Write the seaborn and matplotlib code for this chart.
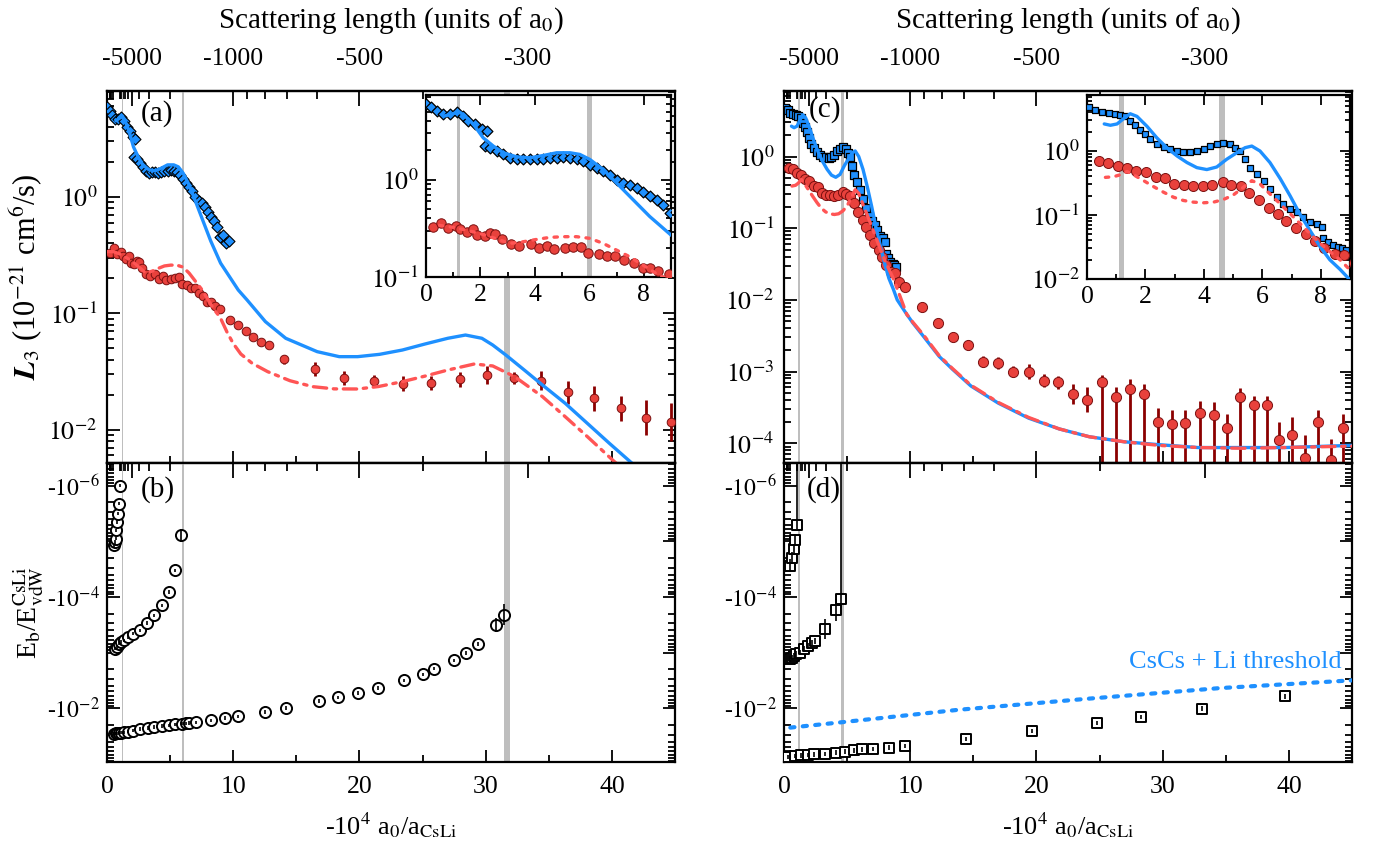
import numpy as np
import matplotlib
matplotlib.use("Agg")
import matplotlib.pyplot as plt
import seaborn as sns
from matplotlib.ticker import MultipleLocator, LogLocator, FuncFormatter, NullFormatter

# ---------------- data (log10 of values) ----------------
# Panel (a): Cs+Cs+Li, L3 of Cs (blue) and Li (red)
a_blue_x = [0.0, 0.2, 0.39, 0.64, 0.88, 1.13, 1.37, 1.55, 1.8, 2.04, 2.23,
            2.17, 2.35, 2.59, 2.84, 3.08, 3.33, 3.57, 3.82, 4.06, 4.31, 4.55, 4.8, 5.04, 5.29,
            5.53, 5.78, 6.02, 6.27, 6.51, 6.76, 7.0, 7.25, 7.49, 7.74, 7.98, 8.22, 8.47, 8.71,
            8.96, 9.2, 9.45, 9.7]
a_blue_log = [0.776, 0.741, 0.707, 0.672, 0.672, 0.69, 0.655, 0.603, 0.569, 0.517, 0.5,
              0.345, 0.328, 0.293, 0.259, 0.224, 0.207, 0.214, 0.214, 0.207, 0.214, 0.224, 0.224,
              0.234, 0.224, 0.214, 0.19, 0.155, 0.121, 0.086, 0.052, 0.0, -0.034, -0.052, -0.086,
              -0.131, -0.172, -0.207, -0.259, -0.345, -0.33, -0.40, -0.38]
a_red_x = [0.24, 0.54, 0.82, 1.1, 1.25, 1.49, 1.71, 1.88, 2.17, 2.35, 2.53, 2.8, 3.12, 3.43,
           3.84, 4.15, 4.43, 4.71, 5.1, 5.41, 5.68, 5.96, 6.36, 6.66, 6.96, 7.27, 7.64, 7.96,
           8.23, 8.53, 8.94, 9.77, 10.34, 10.98, 11.59, 12.2, 12.84, 14.0, 16.48, 18.8, 21.15,
           23.43, 25.68, 27.96, 30.1, 32.24, 34.4, 36.5, 38.6, 40.7, 42.72, 44.72]
a_red_log = [-0.483, -0.441, -0.493, -0.476, -0.51, -0.534, -0.51, -0.569, -0.576, -0.552,
             -0.559, -0.614, -0.662, -0.683, -0.662, -0.707, -0.683, -0.714, -0.707, -0.697,
             -0.69, -0.752, -0.759, -0.783, -0.783, -0.828, -0.855, -0.903, -0.907, -0.938,
             -0.966, -1.058, -1.1, -1.152, -1.2, -1.243, -1.27, -1.396, -1.479, -1.554, -1.582,
             -1.605, -1.596, -1.567, -1.53, -1.554, -1.579, -1.68, -1.73, -1.817, -1.898, -1.935]
a_red_err = [0.02] * 31 + [0.025] * 6 + [0.037, 0.057, 0.06, 0.055, 0.065, 0.06, 0.065, 0.078,
                                         0.05, 0.08, 0.1, 0.106, 0.107, 0.15, 0.165]
a_theo_blue_x = [0.7, 1.0, 1.25, 1.43, 1.74, 2.1, 2.47, 2.84, 3.33, 3.82, 4.31, 4.8, 5.29, 5.65,
                 6.02, 6.51, 7.0, 7.61, 8.22, 9.0, 10.4, 11.1, 12.55, 14.16, 16.65, 18.4, 19.86,
                 21.6, 23.4, 25.2, 27.0, 28.4, 29.7, 30.56, 31.6, 33.06, 34.5, 36.3, 38.05, 39.8,
                 41.6]
a_theo_blue_log = [0.655, 0.679, 0.69, 0.655, 0.569, 0.43, 0.345, 0.276, 0.234, 0.224, 0.248,
                   0.276, 0.276, 0.259, 0.207, 0.103, -0.034, -0.207, -0.379, -0.569, -0.8,
                   -0.886, -1.072, -1.215, -1.33, -1.373, -1.373, -1.353, -1.316, -1.264, -1.215,
                   -1.187, -1.215, -1.273, -1.359, -1.488, -1.617, -1.774, -1.946, -2.118, -2.29]
a_theo_red_x = [0.0, 0.5, 1.0, 1.5, 2.0, 2.5, 3.08, 3.57, 4.06, 4.55, 5.04, 5.53, 6.02, 6.51,
                7.0, 7.49, 7.98, 8.47, 8.96, 9.5, 10.0, 10.6, 11.5, 12.73, 14.5, 16.3, 18.0,
                19.86, 21.5, 23.4, 25.2, 27.0, 29.1, 30.56, 32.3, 34.5, 36.3, 38.05, 40.2, 41.0]
a_theo_red_log = [-0.47, -0.47, -0.49, -0.52, -0.555, -0.6, -0.655, -0.638, -0.614, -0.593,
                  -0.586, -0.586, -0.603, -0.655, -0.724, -0.793, -0.879, -0.966, -1.034, -1.16,
                  -1.26, -1.35, -1.43, -1.502, -1.58, -1.631, -1.65, -1.651, -1.63, -1.588,
                  -1.54, -1.488, -1.436, -1.453, -1.545, -1.717, -1.889, -2.06, -2.276, -2.35]

# Panel (b): trimer binding energies, log10 |E_b / E_vdW|
b_x = [0.58, 0.63, 0.68, 0.75, 0.82, 0.89, 0.96, 1.03,
       0.61, 0.78, 0.96, 1.14, 1.32, 1.68, 2.03, 2.6, 3.2, 3.74, 4.35, 4.89, 5.42, 5.85,
       0.53, 0.68, 0.82, 0.96, 1.14, 1.32, 1.68, 2.03, 2.6, 3.21, 3.74, 4.35, 4.89, 5.42, 5.96,
       6.24, 6.49, 7.03, 8.27, 9.34, 10.41, 12.55, 14.16, 16.76, 18.33, 19.86, 21.47, 23.5,
       25.04, 25.93, 27.46, 28.42, 29.42, 30.85, 31.42]
b_log = [-4.93, -4.99, -5.05, -5.2, -5.35, -5.5, -5.68, -6.0,
         -3.07, -3.1, -3.16, -3.19, -3.22, -3.28, -3.34, -3.4, -3.53, -3.67, -3.85, -4.09, -4.48,
         -5.11,
         -1.537, -1.55, -1.55, -1.556, -1.562, -1.568, -1.58, -1.598, -1.622, -1.64, -1.658,
         -1.676, -1.688, -1.706, -1.718, -1.724, -1.73, -1.742, -1.778, -1.82, -1.85, -1.928,
         -2.0, -2.126, -2.192, -2.27, -2.36, -2.498, -2.607, -2.709, -2.859, -2.991, -3.153,
         -3.496, -3.682]
b_err = [0.03] * 8 + [0.03] * 13 + [0.12] + [0.03] * 33 + [0.13, 0.19]

# Panel (c): Cs+Cs+Li second resonance set
c_blue_x = [0.06, 0.28, 0.51, 0.74, 0.97, 1.14, 1.31, 1.48, 1.65, 1.82, 1.99, 2.16, 2.39, 2.62,
            2.85, 3.08, 3.3, 3.53, 3.76, 3.99, 4.21, 4.44, 4.67, 4.9, 5.07, 5.24, 5.41, 5.58,
            5.81, 6.04, 6.26, 6.49, 6.72, 6.95, 7.18, 7.4, 7.63, 7.86, 8.03, 8.09, 8.26, 8.43,
            8.6, 8.73, 8.86]
c_blue_log = [0.68, 0.644, 0.608, 0.588, 0.582, 0.567, 0.541, 0.464, 0.412, 0.335, 0.258, 0.18,
              0.113, 0.062, 0.026, 0.0, -0.01, -0.015, 0.0, 0.026, 0.077, 0.103, 0.129, 0.103,
              0.052, 0.0, -0.129, -0.258, -0.361, -0.464, -0.593, -0.722, -0.825, -0.902, -0.954,
              -1.031, -1.108, -1.134, -1.186, -1.366, -1.418, -1.47, -1.495, -1.512, -1.544]
c_red_x = [0.4, 0.71, 1.05, 1.37, 1.69, 2.02, 2.36, 2.68, 2.98, 3.33, 3.64, 3.96, 4.29, 4.64,
           4.94, 5.26, 5.56, 5.9, 6.22, 6.53, 6.8, 7.14, 7.49, 7.8, 8.12, 8.47, 8.78, 9.13, 9.6,
           10.93, 12.17, 13.36, 14.55, 15.8, 16.98, 18.17, 19.38, 20.6, 21.72, 22.9, 24.03,
           25.17, 26.3, 27.4, 28.5, 29.66, 30.76, 31.8, 32.93, 34.03, 35.07, 36.1, 37.2, 38.24,
           39.2, 40.24, 41.28, 42.3, 43.34, 44.3]
c_red_log = [-0.155, -0.18, -0.232, -0.258, -0.309, -0.335, -0.412, -0.423, -0.515, -0.531,
             -0.541, -0.552, -0.531, -0.49, -0.526, -0.552, -0.651, -0.768, -0.884, -0.986,
             -1.093, -1.21, -1.303, -1.405, -1.512, -1.605, -1.628, -1.745, -1.814, -2.1, -2.325,
             -2.52, -2.628, -2.86, -2.883, -3.0, -3.0, -3.13, -3.15, -3.31, -3.39, -3.15, -3.35,
             -3.25, -3.32, -3.71, -3.73, -3.72, -3.58, -3.6, -3.79, -3.35, -3.47, -3.47, -3.95,
             -3.88, -4.21, -3.7, -4.24, -3.79]
c_red_err_hi = [0.02] * 29 + [0.03, 0.04, 0.04, 0.07, 0.08, 0.08, 0.08, 0.1, 0.09, 0.09, 0.14,
                              0.17, 0.1, 0.14, 0.15, 0.14, 0.2, 0.2, 0.19, 0.17, 0.17, 0.2, 0.12,
                              0.13, 0.13, 0.25, 0.25, 0.32, 0.17, 0.3, 0.2]
c_red_err_lo = c_red_err_hi[:41] + [9.0] * 19
c_theo_blue_x = [0.59, 0.8, 1.03, 1.25, 1.48, 1.71, 2.05, 2.39, 2.73, 3.08, 3.42, 3.76, 4.1,
                 4.44, 4.78, 5.13, 5.41, 5.64, 5.92, 6.26, 6.61, 6.95, 7.29, 7.63, 7.97, 8.31,
                 8.66, 8.97, 9.72, 10.2, 11.1, 12.3, 13.36, 14.8, 16.97, 19.38, 21.8, 24.2, 26.97,
                 29.7, 32.8, 36.3, 39.7, 45.0]
c_theo_blue_log = [0.423, 0.402, 0.423, 0.505, 0.582, 0.541, 0.387, 0.206, 0.052, -0.077, -0.18,
                   -0.26, -0.29, -0.25, -0.129, -0.026, 0.052, 0.077, 0.0, -0.18, -0.43, -0.7,
                   -0.99, -1.24, -1.49, -1.7, -1.85, -2.0, -2.2, -2.32, -2.52, -2.79, -2.97, -3.2,
                   -3.44, -3.65, -3.8, -3.91, -3.98, -4.02, -4.06, -4.06, -4.06, -4.03]
c_theo_red_x = [0.63, 0.91, 1.14, 1.37, 1.59, 1.94, 2.28, 2.62, 2.96, 3.3, 3.64, 3.99, 4.33,
                4.67, 5.01, 5.35, 5.64, 5.92, 6.26, 6.61, 6.95, 7.29, 7.63, 7.97, 8.31, 8.66,
                8.94, 9.72, 10.2, 11.1, 12.3, 13.36, 14.8, 16.97, 19.38, 21.8, 24.2, 26.97, 29.7,
                32.8, 36.3, 39.7, 45.0]
c_theo_red_log = [-0.412, -0.402, -0.371, -0.32, -0.371, -0.464, -0.557, -0.644, -0.722, -0.773,
                  -0.799, -0.809, -0.799, -0.758, -0.686, -0.567, -0.464, -0.515, -0.67, -0.825,
                  -0.979, -1.134, -1.289, -1.443, -1.572, -1.701, -1.83, -2.2, -2.31, -2.5,
                  -2.78, -2.96, -3.19, -3.43, -3.64, -3.8, -3.91, -3.98, -4.03, -4.06, -4.07,
                  -4.06, -4.04]

# Panel (d): trimer energies, log10 |E_b / E_vdW|
d_x = [0.45, 0.62, 0.76, 0.9, 1.03,
       0.45, 0.62, 0.79, 0.97, 1.24, 1.55, 1.9, 2.24, 2.48, 3.28, 4.14, 4.48,
       0.34, 0.86, 1.38, 1.9, 2.41, 3.28, 4.14, 4.83, 5.52, 6.2, 7.07, 8.28, 9.59, 14.4, 19.66,
       24.76, 28.28, 33.1, 39.66]
d_log = [-4.56, -4.7, -4.86, -5.03, -5.3,
         -2.88, -2.91, -2.94, -2.97, -3.0, -3.06, -3.12, -3.18, -3.21, -3.42, -3.76, -3.97,
         -1.12, -1.14, -1.15, -1.16, -1.17, -1.18, -1.2, -1.22, -1.24, -1.26, -1.27, -1.29,
         -1.32, -1.45, -1.59, -1.73, -1.84, -1.99, -2.21]
d_err_small = [0.12, 0.1, 0.1, 0.1, 9.0] + [0.05] * 9 + [0.18, 0.2, 9.0] + [0.04] * 19
d_err_large = [0.12, 0.1, 0.1, 0.1, 0.08] + [0.05] * 9 + [0.18, 0.2, 0.1] + [0.04] * 19
d_thr_x = [0.5, 4.5, 13.8, 24.1, 34.5, 45.0]
d_thr_log = [-1.65, -1.745, -1.97, -2.17, -2.36, -2.5]

# resonance positions (grey bands) and top-axis scattering lengths
a_bands = [(1.15, 1.25), (5.92, 6.08), (31.45, 31.95)]
c_bands = [(1.1, 1.25), (4.52, 4.72)]
scat_major = [-5000, -1000, -500, -300]
scat_minor = [-50000, -40000, -30000, -20000, -10000, -9000, -8000, -7000, -6000, -4000,
              -3000, -2000, -900, -800, -700, -600, -400]

# ---------------- style ----------------
sns.set_theme(style="ticks")
plt.rcParams["font.family"] = ["Liberation Serif", "DejaVu Serif"]
plt.rcParams["mathtext.fontset"] = "stix"
plt.rcParams["axes.edgecolor"] = "black"
plt.rcParams["xtick.color"] = "black"
plt.rcParams["ytick.color"] = "black"
plt.rcParams["text.color"] = "black"
plt.rcParams["axes.labelcolor"] = "black"

BLUE = "#1E90FF"
RED = "#E8413C"
RED_EDGE = "#7A1010"
RED_ERR = "#8B0000"
RED_LINE = "#FF5555"
GREY = "#BEBEBE"
TICK_FS = 18.5

W, H = 1377, 856


def box(l, t, r, b):
    return [l / W, 1 - b / H, (r - l) / W, (b - t) / H]


fig = plt.figure(figsize=(W / 100, H / 100), dpi=100)
ax_a = fig.add_axes(box(107, 91, 675, 463))
ax_b = fig.add_axes(box(107, 463, 675, 762))
ax_c = fig.add_axes(box(784, 91, 1352, 463))
ax_d = fig.add_axes(box(784, 463, 1352, 762))
ax_ai = fig.add_axes(box(426, 95, 671, 277))
ax_ci = fig.add_axes(box(1087, 95, 1350, 279))


def pow_fmt(v, p):
    return r"$10^{%d}$" % int(round(np.log10(v)))


def neg_fmt(v, p):
    e = int(round(np.log10(v)))
    return (r"-$10^{%d}$" % e) if e % 2 == 0 else ""


def style_axis(ax, labelsize=TICK_FS, major=9, minor=5):
    ax.tick_params(which="both", direction="in", right=True, top=False, width=1.3,
                   labelsize=labelsize, color="black")
    ax.tick_params(which="major", length=major)
    ax.tick_params(which="minor", length=minor)
    for s in ax.spines.values():
        s.set_linewidth(1.6)
        s.set_color("black")


def log_y(ax, fmt):
    ax.set_yscale("log")
    ax.yaxis.set_major_locator(LogLocator(base=10, numticks=30))
    ax.yaxis.set_minor_locator(LogLocator(base=10, subs=np.arange(2, 10), numticks=30))
    ax.yaxis.set_major_formatter(FuncFormatter(fmt))
    ax.yaxis.set_minor_formatter(NullFormatter())


def curve(ax, x, logv, color, ls, lw, z=4):
    sns.lineplot(x=np.asarray(x, float), y=10 ** np.asarray(logv, float), ax=ax, color=color,
                 linestyle=ls, linewidth=lw, sort=False, estimator=None, zorder=z,
                 legend=False, dash_capstyle="round")


def points(ax, x, logv, marker, face, edge, size, lw, err_lo=None, err_hi=None,
           ecolor="black", elw=1.3, z=3, err_on_top=False):
    x = np.asarray(x, float)
    y = 10 ** np.asarray(logv, float)
    sns.scatterplot(x=x, y=y, ax=ax, marker=marker, color=face, edgecolor=edge,
                    linewidth=lw, s=size ** 2, zorder=z, legend=False)
    if err_lo is not None:
        lo = y - y * 10 ** (-np.asarray(err_lo, float))
        hi = y * 10 ** np.asarray(err_hi, float) - y
        ax.errorbar(x, y, yerr=[lo, hi], fmt="none", ecolor=ecolor, elinewidth=elw,
                    capsize=0, zorder=(z + 0.5) if err_on_top else (z - 0.5))


scat_pos = [-1e4 / a for a in scat_major]
scat_minor_pos = [-1e4 / a for a in scat_minor]


def top_scale(ax, labels=True):
    sec = ax.secondary_xaxis("top")
    sec.set_xticks(scat_pos, labels=[str(a) for a in scat_major] if labels else [])
    sec.set_xticks(scat_minor_pos, minor=True)
    sec.tick_params(which="both", direction="in", width=1.3, labelsize=TICK_FS, pad=15,
                    color="black")
    sec.tick_params(which="major", length=11)
    sec.tick_params(which="minor", length=6)
    for s in sec.spines.values():
        s.set_linewidth(1.6)
    if labels:
        sec.set_xlabel("Scattering length (units of a$_0$)", fontsize=21, labelpad=15)
    return sec


# ---------------- main panels setup ----------------
for ax in (ax_a, ax_b, ax_c, ax_d):
    style_axis(ax)
    ax.set_xlim(0, 45)
    ax.xaxis.set_major_locator(MultipleLocator(10))
    ax.xaxis.set_minor_locator(MultipleLocator(5))

for ax in (ax_a, ax_c):
    log_y(ax, pow_fmt)
    ax.tick_params(axis="x", bottom=True, labelbottom=False)
    ax.tick_params(axis="y", pad=7)
    top_scale(ax, labels=True)
ax_a.set_ylim(5.16e-3, 8.15)
ax_c.set_ylim(5.3e-5, 8.2)

for ax in (ax_b, ax_d):
    log_y(ax, neg_fmt)
    ax.set_ylim(0.093, 3.9e-7)
    ax.tick_params(axis="x", pad=10)
    ax.tick_params(axis="y", pad=5, labelsize=17)
    top_scale(ax, labels=False)
    ax.set_xlabel(r"-10$^4$ a$_0$/a$_{\rm CsLi}$", fontsize=19)
    ax.xaxis.set_label_coords(0.5, -0.16)

# grey bands
for ax in (ax_a, ax_b, ax_ai):
    for lo, hi in a_bands:
        ax.axvspan(lo, hi, color=GREY, lw=0, zorder=1)
for ax in (ax_c, ax_d, ax_ci):
    for lo, hi in c_bands:
        ax.axvspan(lo, hi, color=GREY, lw=0, zorder=1)

# ---------------- panel (a) ----------------
blue_err = [0.03] * len(a_blue_x)
points(ax_a, a_blue_x, a_blue_log, "D", BLUE, "black", 5.6, 0.8, blue_err, blue_err,
       ecolor="black", elw=1.0, z=3)
points(ax_a, a_red_x, a_red_log, "o", RED, RED_EDGE, 6.2, 0.7, a_red_err, a_red_err,
       ecolor=RED_ERR, elw=2.0, z=3)
curve(ax_a, a_theo_blue_x, a_theo_blue_log, BLUE, "-", 2.4)
curve(ax_a, a_theo_red_x, a_theo_red_log, RED_LINE, (0, (4, 2, 1, 2)), 2.4)
ax_a.text(0.088, 0.94, "(a)", transform=ax_a.transAxes, fontsize=21, ha="center", va="center")
ax_a.set_ylabel(r"$\mathbfit{L}_3$ (10$^{-21}$ cm$^6$/s)", fontsize=22)
ax_a.yaxis.set_label_coords(-0.11, 0.5)

# ---------------- panel (b) ----------------
points(ax_b, b_x, b_log, "o", "white", "black", 8.0, 1.4, b_err, b_err,
       ecolor="black", elw=1.2, z=3, err_on_top=True)
ax_b.text(0.09, 0.91, "(b)", transform=ax_b.transAxes, fontsize=21, ha="center", va="center")
ax_b.set_ylabel(r"E$_{\rm b}$/E$_{\rm vdW}^{\rm CsLi}$", fontsize=20)
ax_b.yaxis.set_label_coords(-0.108, 0.5)

# ---------------- panel (c) ----------------
blue_err_c = [0.03] * len(c_blue_x)
points(ax_c, c_blue_x, c_blue_log, "s", BLUE, "black", 5.6, 0.9, blue_err_c, blue_err_c,
       ecolor="black", elw=1.0, z=3)
points(ax_c, c_red_x, c_red_log, "o", RED, RED_EDGE, 7.3, 0.7, c_red_err_lo, c_red_err_hi,
       ecolor=RED_ERR, elw=2.0, z=3)
curve(ax_c, c_theo_blue_x, c_theo_blue_log, BLUE, "-", 2.4)
curve(ax_c, c_theo_red_x, c_theo_red_log, RED_LINE, (0, (4, 2, 1, 2)), 2.4, z=5)
ax_c.text(0.072, 0.949, "(c)", transform=ax_c.transAxes, fontsize=21, ha="center", va="center")

# ---------------- panel (d) ----------------
points(ax_d, d_x, d_log, "s", "white", "black", 7.0, 1.4, d_err_small, d_err_large,
       ecolor="black", elw=1.2, z=3, err_on_top=True)
curve(ax_d, d_thr_x, d_thr_log, BLUE, (0, (1, 2)), 3.0)
ax_d.text(44.2, 10 ** -2.83, "CsCs + Li threshold", color=BLUE, fontsize=19,
          ha="right", va="center")
ax_d.text(0.07, 0.91, "(d)", transform=ax_d.transAxes, fontsize=21, ha="center", va="center")

# ---------------- insets ----------------
for ax in (ax_ai, ax_ci):
    style_axis(ax, labelsize=TICK_FS, major=7, minor=3.5)
    ax.tick_params(top=True, pad=5)
    ax.set_xlim(0, 9)
    ax.xaxis.set_major_locator(MultipleLocator(2))
    ax.xaxis.set_minor_locator(MultipleLocator(1))
    log_y(ax, pow_fmt)
    ax.set_facecolor("white")
    ax.set_zorder(10)
ax_ai.set_ylim(0.1, 7.4)
ax_ci.set_ylim(0.01, 7.5)

points(ax_ai, a_blue_x, a_blue_log, "D", BLUE, "black", 5.5, 0.9, blue_err, blue_err,
       ecolor="black", elw=1.0, z=3)
points(ax_ai, a_red_x, a_red_log, "o", RED, RED_EDGE, 6.8, 0.7, a_red_err, a_red_err,
       ecolor=RED_ERR, elw=1.6, z=3)
curve(ax_ai, a_theo_blue_x, a_theo_blue_log, BLUE, "-", 2.4)
curve(ax_ai, a_theo_red_x[1:], a_theo_red_log[1:], RED_LINE, (0, (1, 2.2)), 2.4)

points(ax_ci, c_blue_x, c_blue_log, "s", BLUE, "black", 5.0, 0.9, blue_err_c, blue_err_c,
       ecolor="black", elw=1.0, z=3)
points(ax_ci, c_red_x, c_red_log, "o", RED, RED_EDGE, 7.2, 0.7, c_red_err_lo, c_red_err_hi,
       ecolor=RED_ERR, elw=1.6, z=3)
curve(ax_ci, c_theo_blue_x, c_theo_blue_log, BLUE, "-", 2.4)
curve(ax_ci, c_theo_red_x, c_theo_red_log, RED_LINE, (0, (1, 2.2)), 2.4)

fig.savefig("out.png", dpi=100, facecolor="white")
